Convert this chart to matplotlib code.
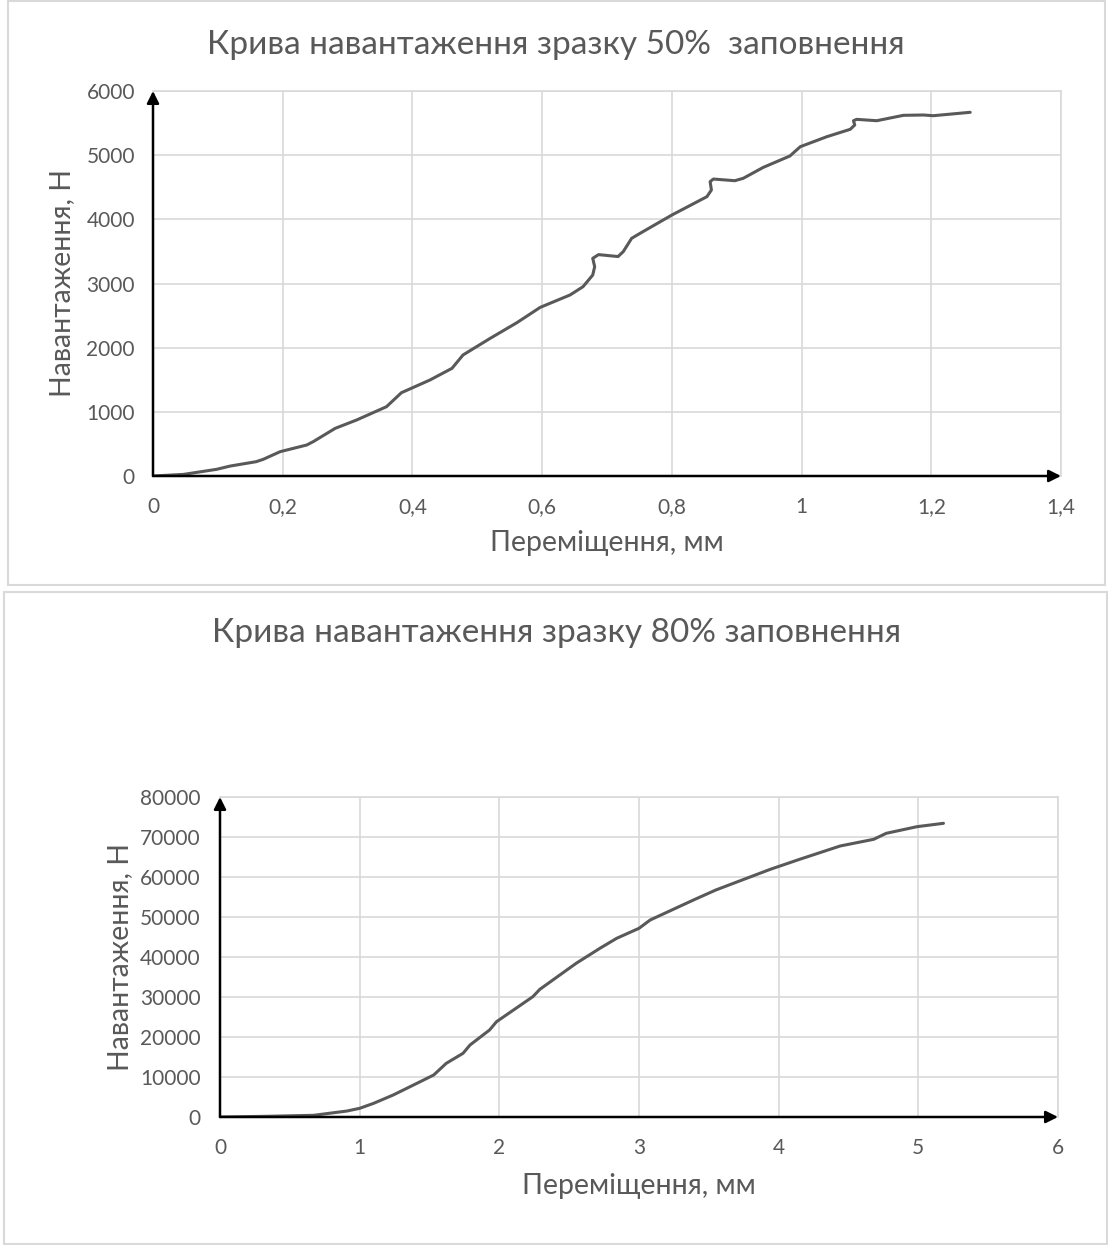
import matplotlib
matplotlib.use("Agg")
import matplotlib.pyplot as plt
from matplotlib.patches import Rectangle

# ---------------- data ----------------
x50 = [0, 0.047, 0.098, 0.119, 0.159, 0.170, 0.196, 0.237, 0.247, 0.281, 0.314, 0.360,
       0.371, 0.383, 0.427, 0.461, 0.478, 0.520, 0.561, 0.597, 0.643, 0.663, 0.678, 0.681,
       0.678, 0.687, 0.717, 0.725, 0.738, 0.751, 0.800, 0.854, 0.861, 0.859, 0.864, 0.897,
       0.910, 0.941, 0.982, 0.998, 1.039, 1.075, 1.082, 1.080, 1.085, 1.116, 1.157, 1.188,
       1.203, 1.260]
y50 = [0, 25, 104, 155, 223, 260, 379, 483, 535, 743, 873, 1080, 1184, 1298, 1496, 1678,
       1886, 2146, 2389, 2628, 2821, 2950, 3132, 3262, 3392, 3450, 3420, 3496, 3704, 3782,
       4067, 4353, 4457, 4587, 4628, 4602, 4639, 4810, 4987, 5132, 5288, 5403, 5470, 5537,
       5558, 5537, 5621, 5626, 5615, 5668]

x80 = [0, 0.33, 0.67, 0.91, 1.0, 1.10, 1.24, 1.41, 1.53, 1.62, 1.74, 1.79, 1.93, 1.98,
       2.24, 2.29, 2.55, 2.72, 2.84, 3.0, 3.08, 3.39, 3.55, 3.94, 4.15, 4.44, 4.68, 4.77,
       4.99, 5.18]
y80 = [0, 170, 420, 1500, 2170, 3420, 5500, 8420, 10500, 13420, 15920, 18000, 21750,
       23830, 30080, 31920, 38420, 42170, 44670, 47170, 49250, 54250, 56750, 61920, 64420,
       67750, 69420, 70920, 72580, 73420]

xticks50 = [0, 0.2, 0.4, 0.6, 0.8, 1.0, 1.2, 1.4]
xlabels50 = ["0", "0,2", "0,4", "0,6", "0,8", "1", "1,2", "1,4"]
yticks50 = [0, 1000, 2000, 3000, 4000, 5000, 6000]

xticks80 = [0, 1, 2, 3, 4, 5, 6]
yticks80 = [0, 10000, 20000, 30000, 40000, 50000, 60000, 70000, 80000]

title50 = "Крива навантаження зразку 50%  заповнення"
title80 = "Крива навантаження зразку 80% заповнення"
xlabel = "Переміщення, мм"
ylabel = "Навантаження, Н"

# ---------------- style ----------------
W, H = 1108, 1245
plt.rcParams['font.family'] = ['Lato', 'DejaVu Sans']
TXT = "#595959"
GRID = "#d9d9d9"
LINE = "#595959"

fig = plt.figure(figsize=(W / 100, H / 100), dpi=100)


def fx(px):
    return px / W


def fy(py):
    return 1 - py / H


# frames
fig.patches.append(Rectangle((fx(8), fy(585)), fx(1105) - fx(8), fy(1) - fy(585),
                             transform=fig.transFigure, fill=False, ec=GRID, lw=1.5))
fig.patches.append(Rectangle((fx(4), fy(1244)), fx(1107) - fx(4), fy(592) - fy(1244),
                             transform=fig.transFigure, fill=False, ec=GRID, lw=1.5))


def make_axes(l, r, t, b, xs, ys, xt, xtl, yt, xmax, ymax, xpad, ypad):
    ax = fig.add_axes([fx(l), fy(b), fx(r) - fx(l), fy(t) - fy(b)])
    ax.plot(xs, ys, color=LINE, lw=2.2, solid_joinstyle='round', solid_capstyle='round',
            zorder=3)
    ax.set_xlim(0, xmax)
    ax.set_ylim(0, ymax)
    ax.set_xticks(xt)
    ax.set_xticklabels(xtl)
    ax.set_yticks(yt)
    ax.set_yticklabels([str(v) for v in yt])
    ax.grid(True, color=GRID, lw=1.2, zorder=0)
    ax.set_axisbelow(True)
    for s in ['top', 'right']:
        ax.spines[s].set_color(GRID)
        ax.spines[s].set_linewidth(1.2)
    for s in ['left', 'bottom']:
        ax.spines[s].set_visible(False)
    ax.tick_params(length=0, labelsize=15, labelcolor=TXT)
    ax.tick_params(axis='x', pad=xpad)
    ax.tick_params(axis='y', pad=ypad)
    # axis arrows
    ax.annotate('', xy=(0, ymax), xytext=(0, 0), xycoords='data',
                arrowprops=dict(arrowstyle='-|>', color='black', lw=1.8,
                                mutation_scale=18, shrinkA=0, shrinkB=0),
                annotation_clip=False, zorder=5)
    ax.annotate('', xy=(xmax, 0), xytext=(0, 0), xycoords='data',
                arrowprops=dict(arrowstyle='-|>', color='black', lw=1.8,
                                mutation_scale=18, shrinkA=0, shrinkB=0),
                annotation_clip=False, zorder=5)
    return ax


ax1 = make_axes(153, 1061, 91, 476, x50, y50, xticks50, xlabels50, yticks50, 1.4, 6000,
                15, 13)
ax2 = make_axes(220, 1058, 797, 1117, x80, y80, xticks80, [str(v) for v in xticks80],
                yticks80, 6, 80000, 15, 14)

fig.text(fx(556), fy(45), title50, ha='center', va='center', fontsize=24, color=TXT)
fig.text(fx(557), fy(633), title80, ha='center', va='center', fontsize=24, color=TXT)
fig.text(fx(607), fy(543), xlabel, ha='center', va='center', fontsize=20.5, color=TXT)
fig.text(fx(639), fy(1186), xlabel, ha='center', va='center', fontsize=20.5, color=TXT)
fig.text(fx(62), fy(283), ylabel, ha='center', va='center', rotation=90, fontsize=20.5,
         color=TXT)
fig.text(fx(120), fy(957), ylabel, ha='center', va='center', rotation=90, fontsize=20.5,
         color=TXT)

fig.savefig("out.png", dpi=100, facecolor='white')
